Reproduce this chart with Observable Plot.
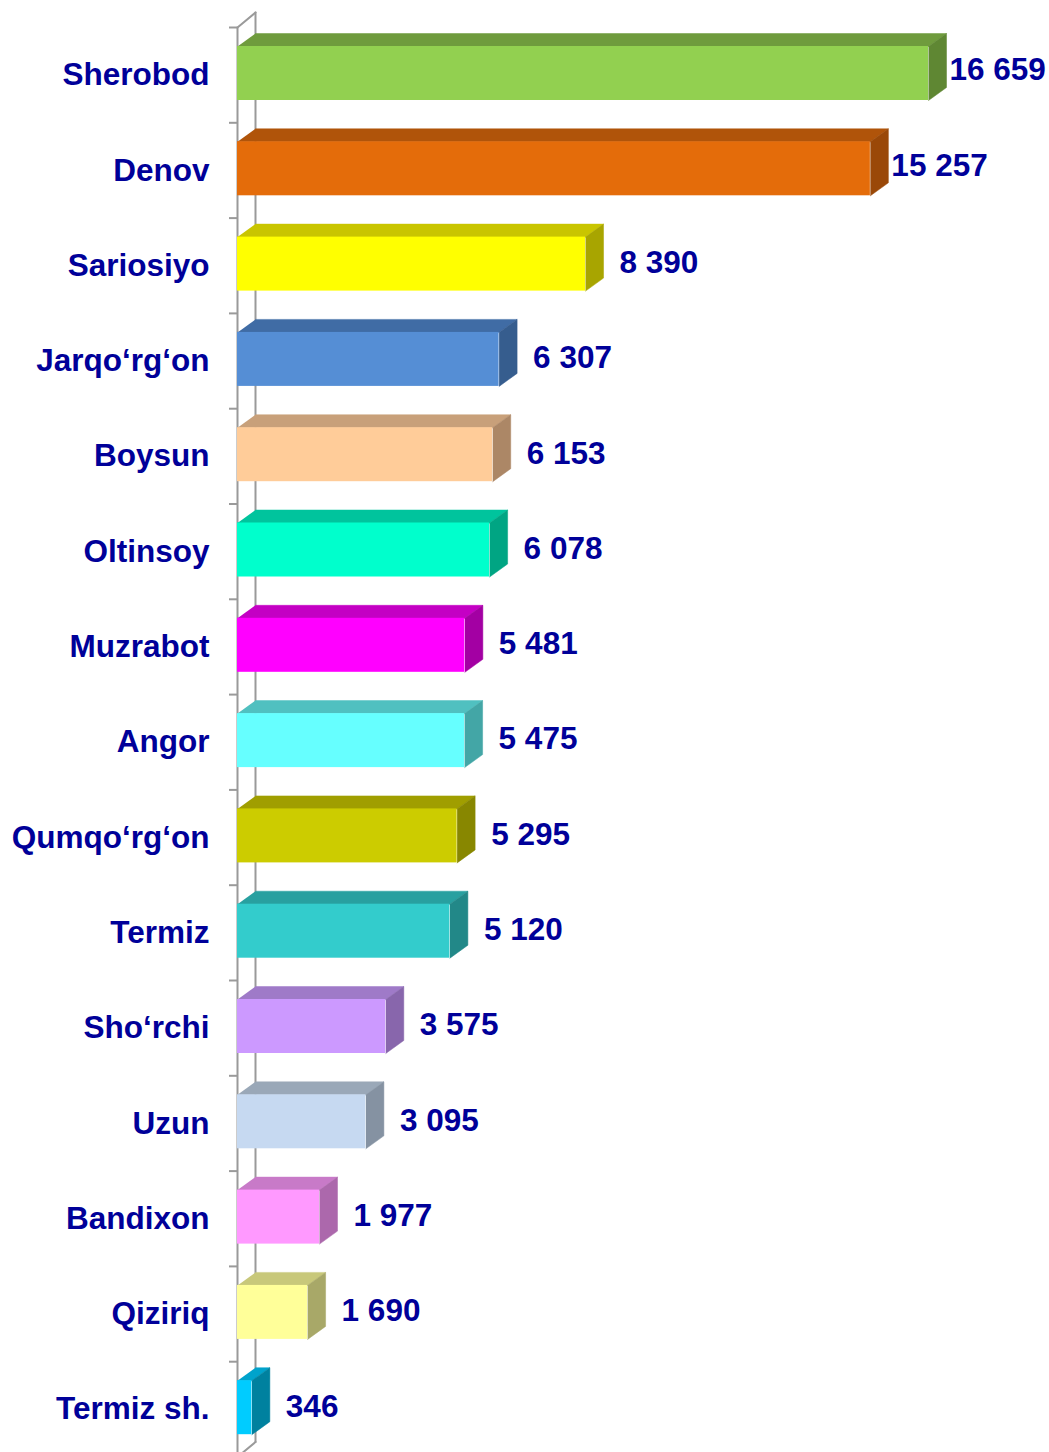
<!DOCTYPE html>
<html>
<head>
<meta charset="utf-8">
<script src="https://cdn.jsdelivr.net/npm/d3@7"></script>
<script src="https://cdn.jsdelivr.net/npm/@observablehq/plot@0.6"></script>
<style>
  html, body { margin: 0; padding: 0; background: #fff; }
</style>
</head>
<body>
<div id="chart"></div>
<script>
const categories = ["Sherobod","Denov","Sariosiyo","Jarqo‘rg‘on","Boysun","Oltinsoy","Muzrabot","Angor","Qumqo‘rg‘on","Termiz","Sho‘rchi","Uzun","Bandixon","Qiziriq","Termiz sh."];
const values = [16659,15257,8390,6307,6153,6078,5481,5475,5295,5120,3575,3095,1977,1690,346];
const frontColors = ["#92D050","#E46C0A","#FFFF00","#558ED5","#FFCC99","#00FFCC","#FF00FF","#66FFFF","#CCCC00","#33CCCC","#CC99FF","#C6D9F1","#FF99FF","#FFFF99","#00CCFF"];
const topColors   = ["#6F9B3D","#B0540A","#C9C500","#406CA5","#C8A07A","#00C49D","#C400C4","#50C0C0","#A09E00","#28A0A0","#9F7AC8","#9AA8B8","#C87AC8","#C8C87A","#00A3CC"];
const sideColors  = ["#5F8733","#9A4808","#A8A500","#365D8E","#AC8766","#00A583","#A300A3","#43A6A6","#888700","#228888","#8866AC","#8592A2","#AC68AC","#A8A868","#00819F"];

const W = 1049, H = 1452;
const X0 = 237;               // pixel position of value 0
const PX = 0.04148;           // pixels per unit
const XMAX = (W - X0) / PX;
const BAND = 95.3;            // pixels per category band
const DX = 18 / PX;           // 3D depth in data units (x)
const DY = 13 / BAND;         // 3D depth in band units (y)
const WDY = 15 / BAND;        // wall depth (y)
const TOP = 19 / BAND, BOT = 73 / BAND;

const fmt = d3.formatLocale({thousands: " ", grouping: [3], decimal: ","}).format(",d");

const rows = categories.map((c, i) => ({c, i, v: values[i], front: frontColors[i], top: topColors[i], side: sideColors[i]}));

const font = "Liberation Sans, Arial, Helvetica, sans-serif";
const navy = "#000099";
const wall = "#9a9a9a";
const FS = 31.5;

const marks = [];

// Walls (axis)
marks.push(Plot.line([{x: 0, y: 0}, {x: 0, y: 15}], {x: "x", y: "y", stroke: wall, strokeWidth: 2}));
marks.push(Plot.line([{x: DX, y: -WDY}, {x: DX, y: 15 - WDY}], {x: "x", y: "y", stroke: wall, strokeWidth: 2}));
marks.push(Plot.line([{x: 0, y: 0}, {x: DX, y: -WDY}], {x: "x", y: "y", stroke: wall, strokeWidth: 2}));
marks.push(Plot.line([{x: 0, y: 15}, {x: DX, y: 15 - WDY}], {x: "x", y: "y", stroke: wall, strokeWidth: 2}));
marks.push(Plot.ruleY(d3.range(0, 16), {y: d => d, x1: -8 / PX, x2: 0, stroke: wall, strokeWidth: 2}));

// 3D bars
for (const r of rows) {
  const y1 = r.i + TOP, y2 = r.i + BOT;
  const topFace = [
    {x: 0, y: y1}, {x: r.v, y: y1}, {x: r.v + DX, y: y1 - DY}, {x: DX, y: y1 - DY}
  ];
  const sideFace = [
    {x: r.v, y: y1}, {x: r.v + DX, y: y1 - DY}, {x: r.v + DX, y: y2 - DY}, {x: r.v, y: y2}
  ];
  marks.push(Plot.line(topFace, {x: "x", y: "y", fill: r.top, stroke: r.top, strokeWidth: 0.5}));
  marks.push(Plot.line(sideFace, {x: "x", y: "y", fill: r.side, stroke: r.side, strokeWidth: 0.5}));
}
marks.push(Plot.rect(rows, {x1: 0, x2: "v", y1: d => d.i + TOP, y2: d => d.i + BOT, fill: "front"}));

// Category labels
marks.push(Plot.text(rows, {x: 0, y: d => d.i + 0.5, text: "c", textAnchor: "end", dx: -28,
  fontSize: FS, fontWeight: "bold", fill: navy, fontFamily: font}));

// Value labels
marks.push(Plot.text(rows.filter(d => d.v > 15000), {x: d => d.v + DX, y: d => d.i + 0.45, text: d => fmt(d.v),
  textAnchor: "start", dx: 3, fontSize: FS, fontWeight: "bold", fill: navy, fontFamily: font}));
marks.push(Plot.text(rows.filter(d => d.v <= 15000), {x: d => d.v + DX, y: d => d.i + 0.47, text: d => fmt(d.v),
  textAnchor: "start", dx: 16, fontSize: FS, fontWeight: "bold", fill: navy, fontFamily: font}));

const chart = Plot.plot({
  width: W,
  height: H,
  marginLeft: 0, marginRight: 0, marginTop: 0, marginBottom: 0,
  x: {domain: [0, XMAX], range: [X0, W], axis: null},
  y: {domain: [0, 15], range: [27, 27 + 15 * BAND], axis: null},
  color: {type: "identity"},
  style: {background: "#fff", fontFamily: font},
  marks
});
document.getElementById("chart").appendChild(chart);
</script>
</body>
</html>
